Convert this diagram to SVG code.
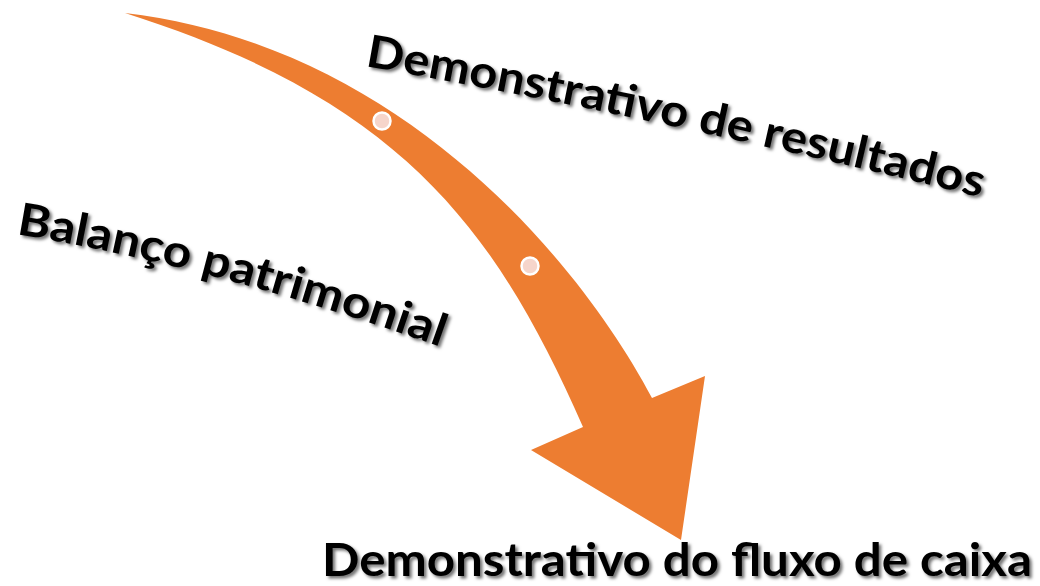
<svg xmlns="http://www.w3.org/2000/svg" width="1040" height="586" viewBox="0 0 1040 586">
<defs>
<style>
.lbl{font-family:"Lato","Liberation Sans",sans-serif;font-weight:bold;font-size:45px;fill:#000;filter:url(#sh)}
.dot{fill:#F6D5CB;stroke:#fff;stroke-width:2.5}
</style>
<filter id="sh" x="-10%" y="-30%" width="120%" height="160%">
<feDropShadow dx="2.5" dy="2.5" stdDeviation="1.5" flood-color="#000" flood-opacity="0.55"/>
</filter>
<path id="p1" d="M365,66 Q660,118 992,200"/>
<path id="p2" d="M16,234 Q222,268 455,352"/>
</defs>
<rect width="1040" height="586" fill="#fff"/>
<g id="connectors">
<g id="arrow">
<path d="M125,13 C400,45 580,262 652,398 L705,376 L681,540 L531,450 L583,427 C495,227 400,100 125,13 Z" fill="#ED7D31"/>
<circle class="dot" cx="382" cy="121" r="8.5"/>
<circle class="dot" cx="530" cy="266" r="8.5"/>
</g>
</g>
<g id="node-resultados">
<text class="lbl"><textPath href="#p1" textLength="630" lengthAdjust="spacingAndGlyphs">Demonstrativo de resultados</textPath></text>
</g>
<g id="node-balanco">
<text class="lbl"><textPath href="#p2" textLength="440" lengthAdjust="spacingAndGlyphs">Balanço patrimonial</textPath></text>
</g>
<g id="node-fluxo">
<text class="lbl" x="322" y="576" textLength="710" lengthAdjust="spacingAndGlyphs">Demonstrativo do fluxo de caixa</text>
</g>
</svg>
